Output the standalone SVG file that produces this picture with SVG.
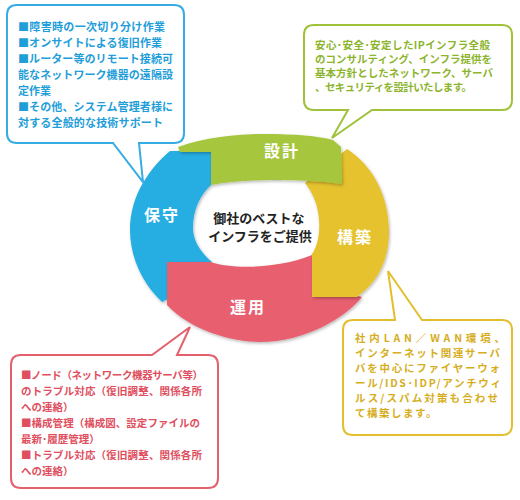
<svg xmlns="http://www.w3.org/2000/svg" width="520" height="500" viewBox="0 0 520 500">
<defs>
<filter id="sh" x="-10%" y="-10%" width="120%" height="120%">
<feDropShadow dx="1" dy="1.5" stdDeviation="1.5" flood-color="#000" flood-opacity="0.28"/>
</filter>
<style>
text{font-family:"Noto Sans CJK JP","Noto Sans",sans-serif;font-weight:bold;}
.ring{font-size:16px;fill:#fff;letter-spacing:2px;}
.ctr{font-size:13px;fill:#222;text-anchor:middle;}
.box{fill:#fff;stroke-width:2;stroke-linejoin:miter;}
.tb{font-size:11px;fill:#1f9ed9;}
.tg{font-size:10.5px;fill:#8cb42c;}
.ty{font-size:10.5px;fill:#d6ae1d;}
.tr{font-size:10.5px;fill:#e04f60;}
</style>
</defs>
<rect width="520" height="500" fill="#fff"/>

<g id="connectors"></g>

<g id="ring-blue">
<path filter="url(#sh)" fill="#25aee3" d="M170,151 C150,168 130,195 130,230 C130,258 143,284 162,302 L185,290 L212,262 C200,252 193,240 193,228 C193,210 200,195 211,185 L211,151 Z"/>
<text class="ring" x="144" y="221">保守</text>
</g>
<g id="ring-red">
<path filter="url(#sh)" fill="#e8616f" d="M167,262 L210,262 C235,270 280,268 312,255 L335,290 L362,297 C345,318 305,342 260,342 C232,342 190,330 167,305 Z"/>
<text class="ring" x="230" y="313">運用</text>
</g>
<g id="ring-yellow">
<path filter="url(#sh)" fill="#e5c22f" d="M347,149 C372,165 389,195 389,232 C389,260 378,282 357,297 L312,297 L312,254 C318,245 320,232 319,220 C318,205 313,193 305,183 Z"/>
<text class="ring" x="337" y="243">構築</text>
</g>
<g id="ring-green">
<path filter="url(#sh)" fill="#a6c63c" d="M178,147 C205,137 240,134 265,134 C295,134 318,136 333,140 L341,147 L342,184 C320,181 300,180 280,180 C255,180 232,181 211,185 L211,152 L180,152 Z"/>
<text class="ring" x="264" y="157">設計</text>
</g>

<g id="center">
<text class="ctr" x="259" y="223">御社のベストな</text>
<text class="ctr" x="260" y="241">インフラをご提供</text>
</g>

<g id="callout-blue">
<path class="box" stroke="#36ace2" d="M17,5 H174 Q184,5 184,15 V133 Q184,143 174,143 H139 L143,182 L113,143 H17 Q7,143 7,133 V15 Q7,5 17,5 Z"/>
<text class="tb" x="18" y="31" textLength="147" lengthAdjust="spacing">■障害時の一次切り分け作業</text>
<text class="tb" x="18" y="47" textLength="144" lengthAdjust="spacing">■オンサイトによる復旧作業</text>
<text class="tb" x="18" y="63" textLength="155" lengthAdjust="spacing">■ルーター等のリモート接続可</text>
<text class="tb" x="18" y="79" textLength="155" lengthAdjust="spacing">能なネットワーク機器の遠隔設</text>
<text class="tb" x="18" y="95">定作業</text>
<text class="tb" x="18" y="111" textLength="155" lengthAdjust="spacing">■その他、システム管理者様に</text>
<text class="tb" x="18" y="127" textLength="145" lengthAdjust="spacing">対する全般的な技術サポート</text>
</g>

<g id="callout-green">
<path class="box" stroke="#9fc23a" d="M314,25 H502 Q512,25 512,35 V100 Q512,110 502,110 H372 L332,138 L348,110 H314 Q304,110 304,100 V35 Q304,25 314,25 Z"/>
<text class="tg" x="315" y="49" textLength="175" lengthAdjust="spacing">安心･安全･安定したIPインフラ全般</text>
<text class="tg" x="315" y="63" textLength="177" lengthAdjust="spacing">のコンサルティング、インフラ提供を</text>
<text class="tg" x="315" y="77" textLength="178" lengthAdjust="spacing">基本方針としたネットワーク、サーバ</text>
<text class="tg" x="315" y="91" textLength="157" lengthAdjust="spacing">、セキュリティを設計いたします。</text>
</g>

<g id="callout-yellow">
<path class="box" stroke="#e3bf2e" d="M353,320 H395 L388,271 L422,320 H502 Q512,320 512,330 V425 Q512,435 502,435 H353 Q343,435 343,425 V330 Q343,320 353,320 Z"/>
<text class="ty" x="355" y="342" textLength="150" lengthAdjust="spacing">社内LAN／WAN環境、</text>
<text class="ty" x="355" y="357" textLength="145" lengthAdjust="spacing">インターネット関連サーバ</text>
<text class="ty" x="355" y="372" textLength="145" lengthAdjust="spacing">バを中心にファイヤーウォ</text>
<text class="ty" x="355" y="387" textLength="146" lengthAdjust="spacing">ール/IDS･IDP/アンチウィ</text>
<text class="ty" x="355" y="402" textLength="143" lengthAdjust="spacing">ルス/スパム対策も合わせ</text>
<text class="ty" x="355" y="417" letter-spacing="1.5">て構築します。</text>
</g>

<g id="callout-red">
<path class="box" stroke="#e5606d" d="M21,355 H152 L190,327 L177,355 H208 Q218,355 218,365 V478 Q218,488 208,488 H21 Q11,488 11,478 V365 Q11,355 21,355 Z"/>
<text class="tr" x="21" y="379" textLength="182" lengthAdjust="spacing">■ノード（ネットワーク機器サーバ等）</text>
<text class="tr" x="21" y="395" textLength="181" lengthAdjust="spacing">のトラブル対応（復旧調整、関係各所</text>
<text class="tr" x="21" y="411">への連絡）</text>
<text class="tr" x="21" y="427" textLength="179" lengthAdjust="spacing">■構成管理（構成図、設定ファイルの</text>
<text class="tr" x="21" y="443">最新･履歴管理）</text>
<text class="tr" x="21" y="459" textLength="181" lengthAdjust="spacing">■トラブル対応（復旧調整、関係各所</text>
<text class="tr" x="21" y="475">への連絡）</text>
</g>
</svg>
